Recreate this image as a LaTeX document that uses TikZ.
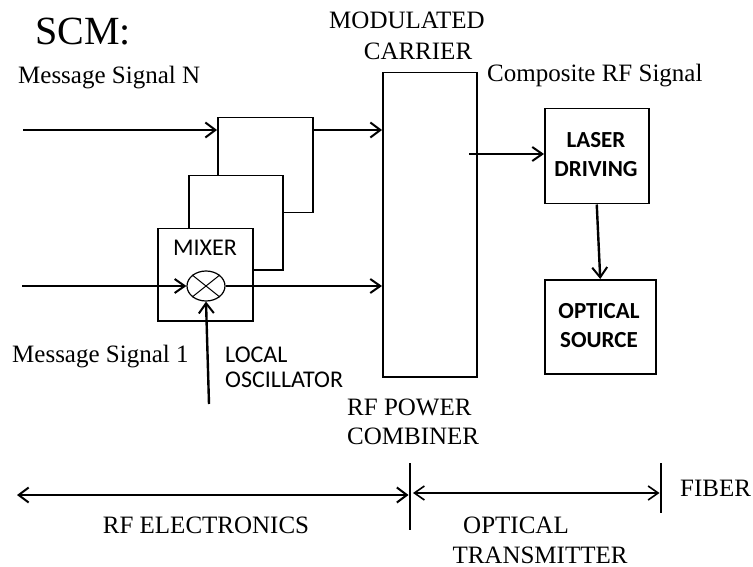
\documentclass[tikz,border=0pt]{standalone}
\usepackage{fontspec}
\setmainfont{Liberation Serif}
\newfontfamily\calib{Carlito}
\usetikzlibrary{arrows.meta,shapes.geometric}
\begin{document}
\begin{tikzpicture}[x=1pt,y=-1pt,
  box/.style={draw, line width=1.5pt, inner sep=0pt, anchor=north west},
  arr/.style={-{Straight Barb[length=10pt,width=15pt,line width=2pt]}, line width=2.4pt},
  sarr/.style={-{Straight Barb[length=10pt,width=14pt,line width=2pt]}, line width=1.8pt},
  serif/.style={font=\fontsize{25}{28}\selectfont, inner sep=0pt},
  sans/.style={font=\calib\fontsize{24}{27}\selectfont, inner sep=0pt},
  bsans/.style={font=\calib\bfseries\fontsize{23}{26}\selectfont, inner sep=0pt},
  bar/.style={line width=2.6pt}
]
\useasboundingbox (0,0) rectangle (753,567);

% boxes
\node[box, minimum width=95pt, minimum height=95pt, fill=white] (b1) at (217,117) {};
\node[box, minimum width=94pt, minimum height=94pt, fill=white] (b2) at (188,175) {};
\node[box, minimum width=95pt, minimum height=92pt, fill=white] (mix) at (157,228) {};
\node[box, minimum width=94pt, minimum height=304pt] (comb) at (382,72) {};
\node[box, minimum width=104pt, minimum height=95pt] (laser) at (544,108) {};
\node[box, minimum width=111pt, minimum height=94pt] (src) at (544,279) {};

% mixer symbol
\node[ellipse, draw, line width=1.2pt, minimum width=38pt, minimum height=30pt, inner sep=0pt] (mx) at (206,286) {};
\draw[line width=1pt] (mx.north east) -- (mx.south west);
\draw[line width=1pt] (mx.north west) -- (mx.south east);

% texts
\node[font=\fontsize{40}{44}\selectfont, inner sep=0pt, anchor=base west] (scm) at (35,45) {SCM:};
\node[serif, anchor=base west] (msgN) at (18,84) {Message Signal N};
\node[serif, anchor=base] (mod) at (407,29) {MODULATED};
\node[serif, anchor=base] (car) at (418,60) {CARRIER};
\node[serif, anchor=base west] (crf) at (487,82) {Composite RF Signal};
\node[serif, anchor=base west] (msg1) at (12,362) {Message Signal 1};
\node[sans, anchor=base] (mixt) at (205,255) {MIXER};
\node[sans, anchor=base west] (loc) at (225,362) {LOCAL};
\node[sans, anchor=base west] (osc) at (225,387) {OSCILLATOR};
\node[bsans, anchor=base] (las1) at (596,148) {LASER};
\node[bsans, anchor=base] (las2) at (596,177) {DRIVING};
\node[bsans, anchor=base] (op1) at (599,318) {OPTICAL};
\node[bsans, anchor=base] (op2) at (599,347) {SOURCE};
\node[serif, anchor=base west] (rfp) at (347,415) {RF POWER};
\node[serif, anchor=base west] (cmb) at (347,444) {COMBINER};
\node[serif, anchor=base] (rfe) at (206,533) {RF ELECTRONICS};
\node[serif, anchor=base] (opt) at (516,533) {OPTICAL};
\node[serif, anchor=base] (trn) at (540,563) {TRANSMITTER};
\node[serif, anchor=base west] (fib) at (680,496) {FIBER};

% connectors
\coordinate (inN) at (23,130);
\draw[arr] (inN) -- (inN -| b1.west);
\draw[arr] (b1.east |- inN) -- (inN -| comb.west);
\coordinate (in1) at (22,286);
\draw[sarr] (in1) -- (mx.west);
\draw[sarr] (mx.east) -- (mx.east -| comb.west);
\coordinate (lo) at (209,404);
\draw[arr] (lo) -- (mx.south);
\coordinate (cs) at (469,154);
\draw[sarr] (cs) -- (cs -| laser.west);
\draw[arr] (laser.south) -- (src.north);

% bottom scale
\coordinate (bar1t) at (410,463);
\coordinate (bar1b) at (410,530);
\coordinate (bar2t) at (661,463);
\coordinate (bar2b) at (661,513);
\draw[bar] (bar1t) -- (bar1b);
\draw[bar] (bar2t) -- (bar2b);
\coordinate (le) at (17,495);
\draw[{Straight Barb[length=10pt,width=15pt,line width=2pt]}-{Straight Barb[length=10pt,width=15pt,line width=2pt]}, line width=2.4pt] (le) -- ([xshift=-1.5pt]le -| bar1t);
\coordinate (re) at (412,493);
\draw[{Straight Barb[length=10pt,width=14pt,line width=1.6pt]}-{Straight Barb[length=10pt,width=14pt,line width=1.6pt]}, line width=1.4pt] ([xshift=1pt]re) -- ([xshift=-1.5pt]re -| bar2t);
\end{tikzpicture}
\end{document}
